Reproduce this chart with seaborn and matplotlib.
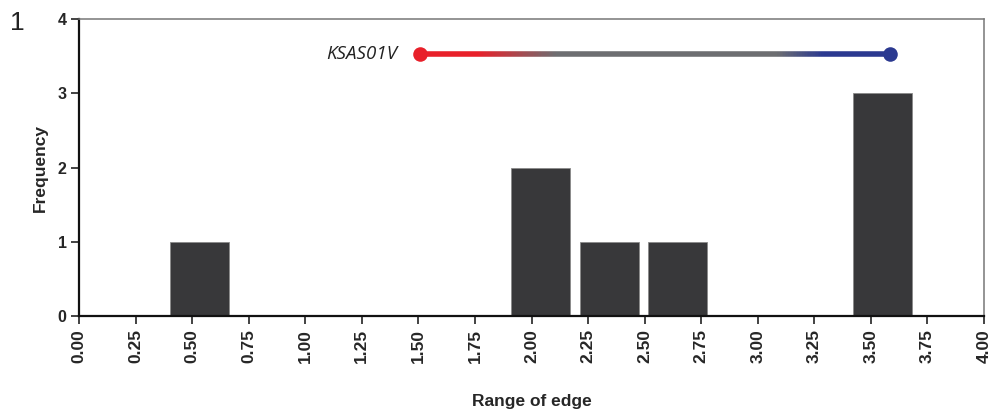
import numpy as np
import pandas as pd
import matplotlib
matplotlib.use("Agg")
import matplotlib.pyplot as plt
import seaborn as sns
from matplotlib.collections import LineCollection
from matplotlib.colors import LinearSegmentedColormap

# Histogram bins (left edges) and counts per bin
bin_width = 0.302
bin_left = [0.38, 0.682, 0.984, 1.286, 1.588, 1.89, 2.192, 2.494, 2.796, 3.098, 3.40]
counts = [1, 0, 0, 0, 0, 2, 1, 1, 0, 0, 3]

# Range bar for the sample
range_label = "KSAS01V"
range_start = 1.505
range_end = 3.585
range_level = 3.53

x_ticks = [0.00, 0.25, 0.50, 0.75, 1.00, 1.25, 1.50, 1.75, 2.00, 2.25, 2.50, 2.75, 3.00, 3.25, 3.50, 3.75, 4.00]
y_ticks = [0, 1, 2, 3, 4]

sns.set_theme(style="white")
plt.rcParams["font.family"] = ["Liberation Sans", "DejaVu Sans"]

edges = list(bin_left) + [bin_left[-1] + bin_width]
df = pd.DataFrame({"edge": [l + bin_width / 2 for l in bin_left], "n": counts})

fig = plt.figure(figsize=(9.94, 4.19), dpi=100)
ax = fig.add_axes([0.0795, 0.245, 0.9105, 0.71])

sns.histplot(data=df, x="edge", weights="n", bins=edges, shrink=0.86,
             color="#38383a", alpha=1.0, edgecolor="#8a8a8a", linewidth=0.6, ax=ax)

# Gradient range line: red -> grey -> blue
cmap = LinearSegmentedColormap.from_list(
    "rg", [(0.0, "#e8202a"), (0.12, "#e8202a"), (0.29, "#6d6e71"),
           (0.76, "#6d6e71"), (0.86, "#2b3990"), (1.0, "#2b3990")])
xs = np.linspace(range_start, range_end, 300)
pts = np.array([xs, np.full_like(xs, range_level)]).T.reshape(-1, 1, 2)
segs = np.concatenate([pts[:-1], pts[1:]], axis=1)
lc = LineCollection(segs, cmap=cmap, linewidths=4, capstyle="butt", zorder=4)
lc.set_array(np.linspace(0, 1, len(segs)))
ax.add_collection(lc)
ax.scatter([range_start], [range_level], s=110, color="#e8202a", zorder=5, linewidths=0)
ax.scatter([range_end], [range_level], s=110, color="#2b3990", zorder=5, linewidths=0)
ax.text(range_start - 0.1, range_level, range_label, ha="right", va="center",
        fontsize=13.5, style="italic", family=["Open Sans", "DejaVu Sans"], color="#222222")

ax.set_xlim(0, 4)
ax.set_ylim(0, 4)
ax.set_xticks(x_ticks)
ax.set_xticklabels([f"{t:.2f}" for t in x_ticks], rotation=90, fontsize=12.5, fontweight="bold")
ax.set_yticks(y_ticks)
ax.set_yticklabels([str(t) for t in y_ticks], fontsize=11.5, fontweight="bold")
ax.tick_params(axis="both", direction="out", length=6, width=1.2, color="#222222", pad=3,
               bottom=True, left=True)
ax.set_xlabel("Range of edge", fontsize=12.5, fontweight="bold", labelpad=22)
ax.set_ylabel("Frequency", fontsize=12.5, fontweight="bold", labelpad=7)

for side in ["left", "bottom"]:
    ax.spines[side].set_color("#111111")
    ax.spines[side].set_linewidth(1.6)
for side in ["top", "right"]:
    ax.spines[side].set_color("#777777")
    ax.spines[side].set_linewidth(1.1)

fig.text(0.01, 0.945, "1", fontsize=19, color="#222222", ha="left", va="center")

fig.savefig("out.png", dpi=100)
